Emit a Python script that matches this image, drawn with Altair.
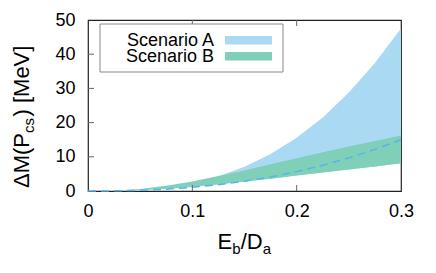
import altair as alt
import pandas as pd

# ---- data ----
x_vals = [0, 0.025, 0.05, 0.075, 0.1, 0.125, 0.15, 0.175, 0.2, 0.225, 0.25, 0.275, 0.3]
a_hi = [0, 0.05, 0.34, 1.05, 2.3, 4.3, 7.1, 10.8, 15.6, 21.5, 28.8, 37.4, 47.5]
a_lo = [0, 0.04, 0.25, 0.6, 1.1, 1.9, 2.8, 3.6, 4.5, 5.4, 6.3, 7.2, 8.1]
b_hi = [0, 0.1, 0.6, 1.5, 2.8, 4.4, 6.0, 7.8, 9.6, 11.3, 13.0, 14.6, 16.2]
b_lo = [0, 0.05, 0.3, 0.75, 1.3, 2.0, 2.8, 3.6, 4.5, 5.4, 6.3, 7.2, 8.1]
a_mid = [0, 0.04, 0.2, 0.54, 1.07, 1.83, 2.84, 4.11, 5.67, 7.52, 9.68, 12.17, 15.0]

x_ticks = [0, 0.1, 0.2, 0.3]
y_ticks = [0, 10, 20, 30, 40, 50]
inner_x_ticks = [0.1, 0.2]
inner_y_ticks = [10, 20, 30, 40]

legend_labels = ["Scenario A", "Scenario B"]
legend_colors = ["#aad9f4", "#80cfb9"]
dash_color = "#56b4e9"

x_title_parts = ["E", "b", "/D", "a"]
y_title_parts = ["ΔM(P", "cs", ") [MeV]"]

FONT = "Liberation Sans"
W, H = 313, 171

df = pd.DataFrame({"x": x_vals, "a_hi": a_hi, "a_lo": a_lo,
                   "b_hi": b_hi, "b_lo": b_lo, "a_mid": a_mid})

xs = alt.Scale(domain=[0, 0.3], nice=False, zero=False)
ys = alt.Scale(domain=[0, 50], nice=False)

x_axis = alt.Axis(values=x_ticks, title=None, grid=False, ticks=False, tickSize=0,
                  domain=False, labelPadding=11, labelFontSize=18, labelFont=FONT,
                  labelColor="#000", labelOverlap=False,
                  labelExpr="datum.value == 0 ? '0' : format(datum.value, '.1f')")
y_axis = alt.Axis(values=y_ticks, title=None, grid=False, ticks=False, tickSize=0,
                  domain=False, labelPadding=13, labelFontSize=18, labelFont=FONT,
                  labelColor="#000", format="d", labelOverlap=False)

base = alt.Chart(df)

band_a = base.mark_area(color=legend_colors[0], opacity=1).encode(
    x=alt.X("x:Q", scale=xs, axis=x_axis),
    y=alt.Y("a_lo:Q", scale=ys, axis=y_axis),
    y2="a_hi:Q")
band_b = base.mark_area(color=legend_colors[1], opacity=1).encode(
    x=alt.X("x:Q", scale=xs, axis=x_axis),
    y=alt.Y("b_lo:Q", scale=ys, axis=y_axis), y2="b_hi:Q")
mid = base.mark_line(color=dash_color, strokeWidth=1.5, strokeDash=[8, 5]).encode(
    x=alt.X("x:Q", scale=xs, axis=x_axis),
    y=alt.Y("a_mid:Q", scale=ys, axis=y_axis))

tx = pd.DataFrame({"v": inner_x_ticks})
ty = pd.DataFrame({"v": inner_y_ticks})
tick_style = dict(color="#666", strokeWidth=1)
ticks_bottom = alt.Chart(tx).mark_rule(**tick_style).encode(
    x=alt.X("v:Q", scale=xs, axis=x_axis), y=alt.value(H), y2=alt.value(H - 6))
ticks_top = alt.Chart(tx).mark_rule(**tick_style).encode(
    x=alt.X("v:Q", scale=xs, axis=x_axis), y=alt.value(0), y2=alt.value(6))
ticks_left = alt.Chart(ty).mark_rule(**tick_style).encode(
    y=alt.Y("v:Q", scale=ys, axis=y_axis), x=alt.value(0), x2=alt.value(6))

# legend (box, labels, swatches)
leg_df = pd.DataFrame({"t": [""]})
leg_box = alt.Chart(leg_df).mark_rect(fill="white", stroke="#888", strokeWidth=1).encode(
    x=alt.value(12), x2=alt.value(195), y=alt.value(4), y2=alt.value(52))
leg_items = []
for i, (lab, col) in enumerate(zip(legend_labels, legend_colors)):
    cy = 20.3 + 16 * i
    leg_items.append(alt.Chart(pd.DataFrame({"t": [lab]})).mark_text(
        align="right", baseline="middle", font=FONT, fontSize=18, color="#000").encode(
        text="t:N", x=alt.value(126), y=alt.value(cy + 1)))
    leg_items.append(alt.Chart(leg_df).mark_rect(fill=col).encode(
        x=alt.value(137), x2=alt.value(184), y=alt.value(cy - 4.2), y2=alt.value(cy + 4.2)))


def piece(txt, x, y, size, angle=0):
    return alt.Chart(pd.DataFrame({"t": [txt]})).mark_text(
        align="left", baseline="alphabetic", font=FONT, fontSize=size,
        angle=angle, color="#000").encode(text="t:N", x=alt.value(x), y=alt.value(y))


# x title: E_b/D_a
xt0, xb = 129.5, 229
xt = [
    piece(x_title_parts[0], xt0, xb, 22),
    piece(x_title_parts[1], xt0 + 14.7, xb + 5, 15),
    piece(x_title_parts[2], xt0 + 23.2, xb, 22),
    piece(x_title_parts[3], xt0 + 45.2, xb + 5, 15),
]
# y title: ΔM(P_cs) [MeV], rotated
yb, y0 = -59, 168
yt = [
    piece(y_title_parts[0], yb, y0, 22, 270),
    piece(y_title_parts[1], yb + 5, y0 - 55, 15, 270),
    piece(y_title_parts[2], yb, y0 - 71.5, 22, 270),
]

chart = alt.layer(band_a, band_b, mid, ticks_bottom, ticks_top, ticks_left,
                  leg_box, *leg_items, *xt, *yt).properties(
    width=W, height=H,
    autosize=alt.AutoSizeParams(type="none"),
    padding={"left": 80, "top": 12, "right": 27, "bottom": 74},
).configure_view(stroke="#222", strokeWidth=1.2
).configure_axis(labelOverlap=False, labelFlush=False)

chart.save("out.html", embed_options={"renderer": "svg", "actions": False})
